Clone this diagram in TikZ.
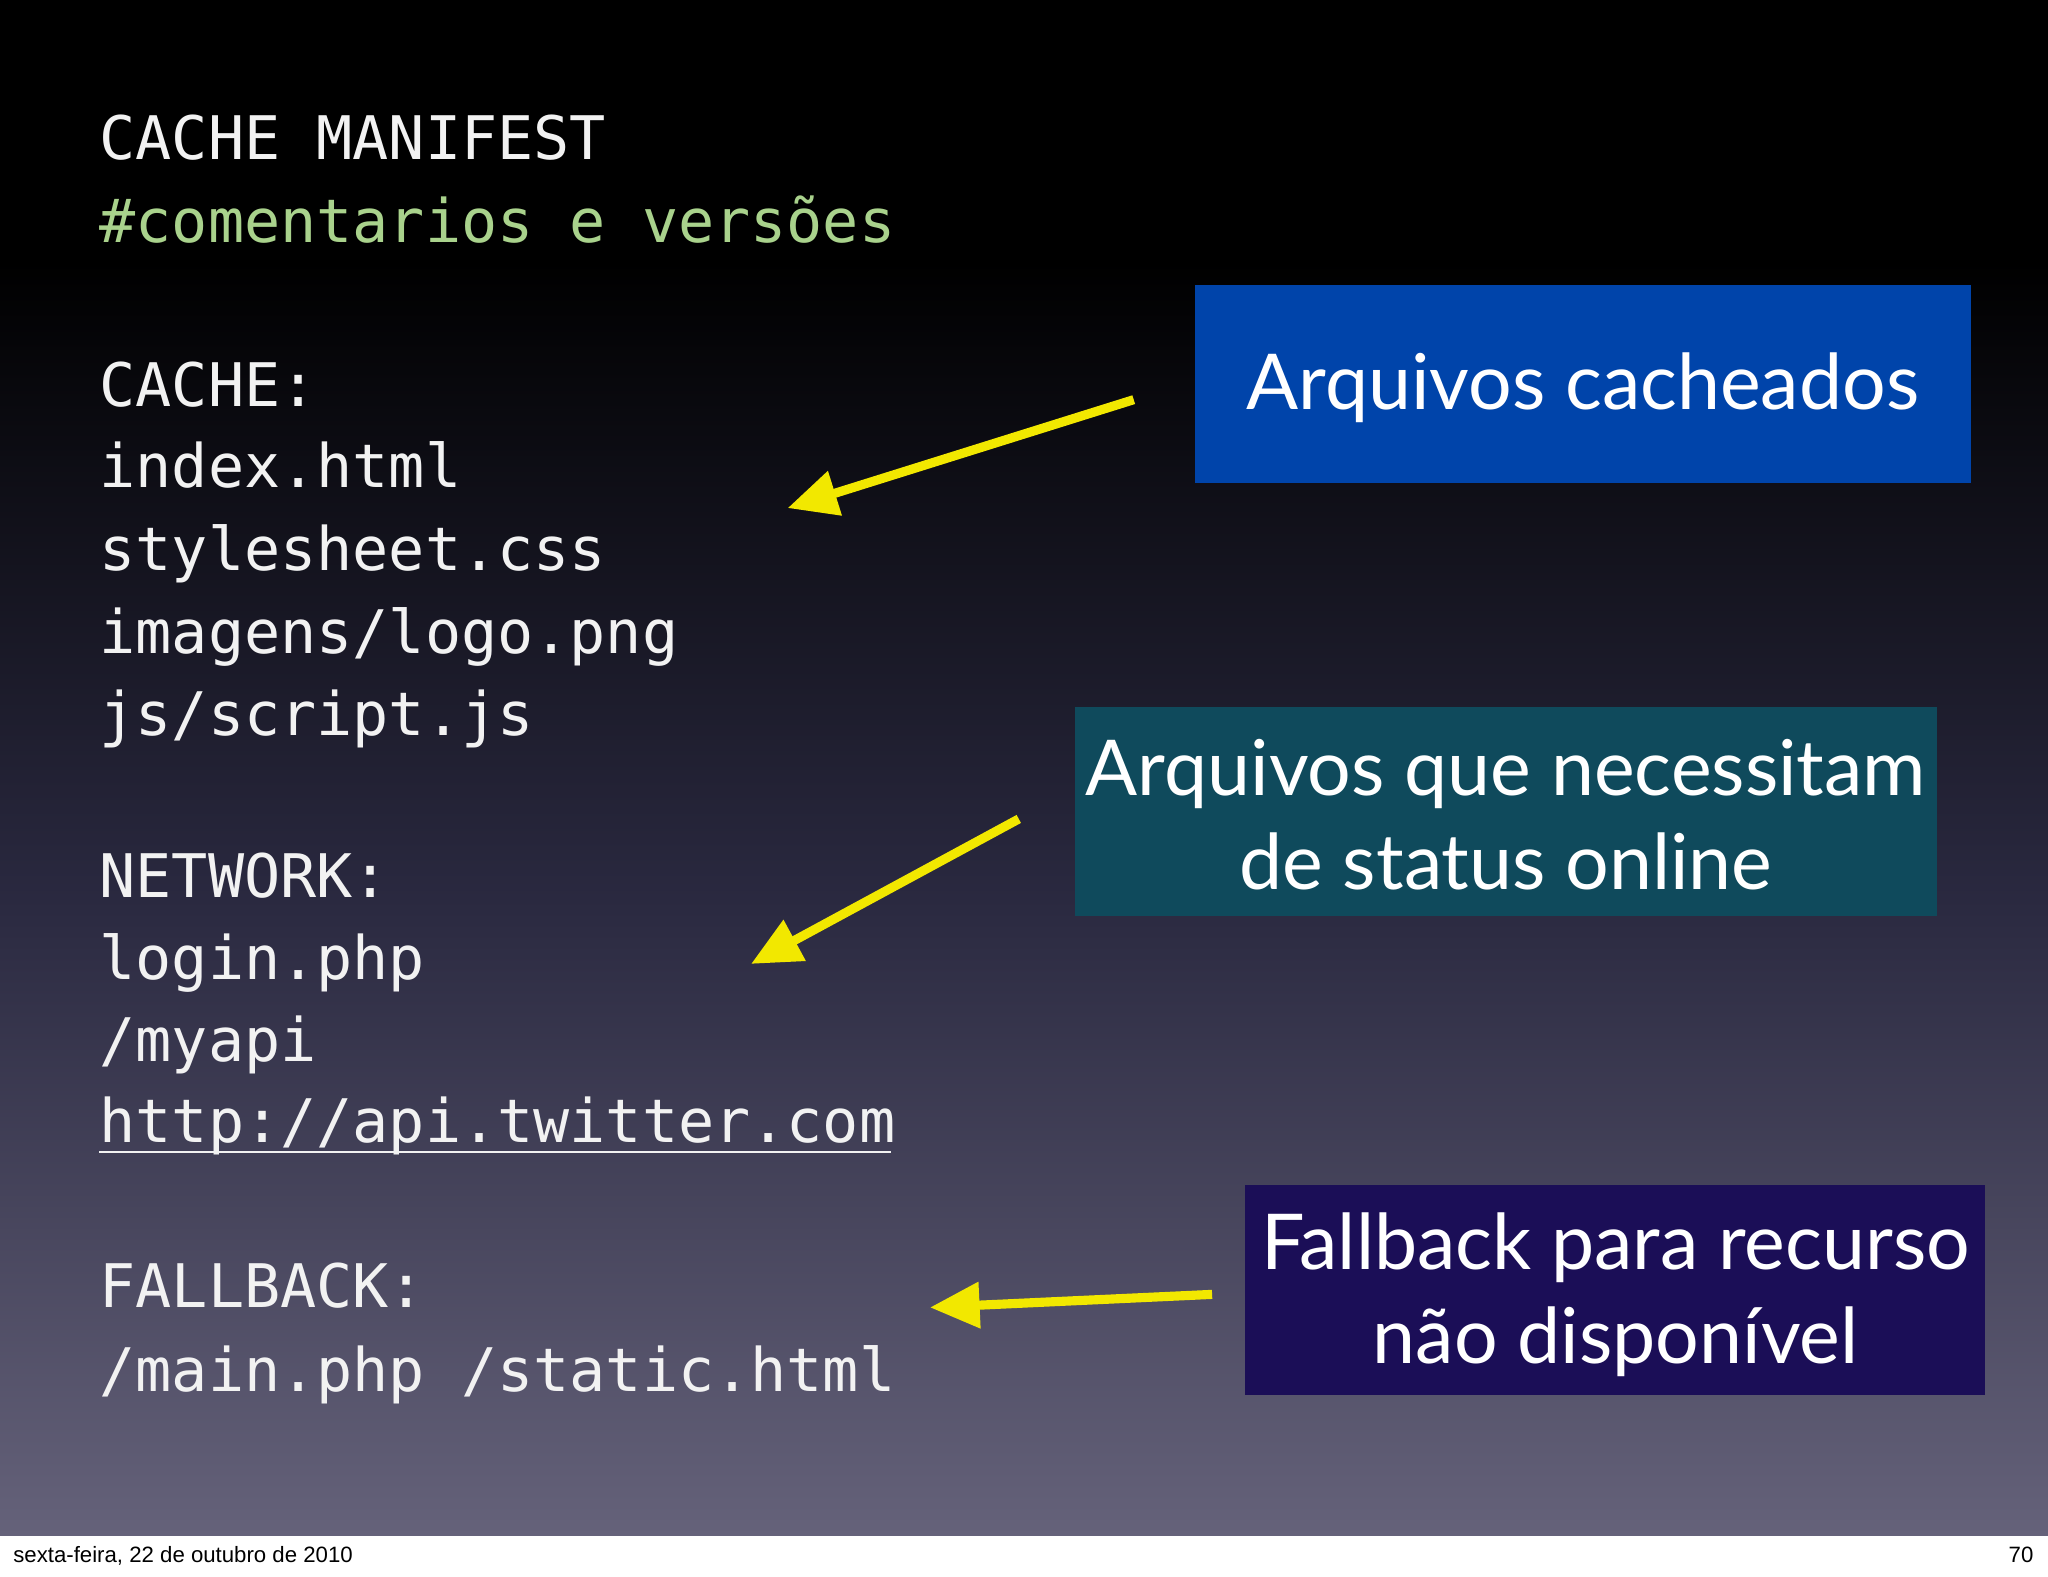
\documentclass[tikz,border=0pt]{standalone}
\usepackage{fontspec}
\setmonofont{DejaVu Sans Mono}
\newfontfamily\boxfont{Lato}
\newfontfamily\footfont{Liberation Sans}
\usetikzlibrary{arrows.meta}
\definecolor{codecol}{HTML}{F2F2F2}
\definecolor{comcol}{HTML}{A9D28C}
\definecolor{boxa}{HTML}{0044AA}
\definecolor{boxb}{HTML}{0F4A5C}
\definecolor{boxc}{HTML}{1B0E57}
\definecolor{arrcol}{HTML}{F2E800}
\definecolor{bgbot}{HTML}{65627A}
\definecolor{bgmid}{HTML}{2A2940}
\begin{document}
\begin{tikzpicture}[x=1pt,y=-1pt,
  code/.style={anchor=base west,inner sep=0pt,text=codecol,font=\fontsize{46}{46}\selectfont\ttfamily},
  lbl/.style={text=white,font=\fontsize{59}{72}\selectfont\boxfont,align=center,inner sep=0pt},
  arr/.style={arrcol,line width=7pt,-{Triangle[length=38pt,width=34pt]}}]
\useasboundingbox (0,0) rectangle (1568,1207);
\fill[black] (0,0) rectangle (1568,201);
\shade[top color=black,bottom color=bgbot,middle color=bgmid] (0,200) rectangle (1568,1176);
\fill[white] (0,1176) rectangle (1568,1207);
\node[anchor=base west,inner sep=0pt,font=\fontsize{17}{17}\selectfont\footfont] (foot) at (10,1196) {sexta-feira, 22 de outubro de 2010};
\node[anchor=base east,inner sep=0pt,font=\fontsize{17}{17}\selectfont\footfont] (page) at (1557,1196) {70};
\node[code] (l1) at (76,122) {CACHE MANIFEST};
\node[code,text=comcol] (l2) at (76,186) {\#comentarios e versões};
\node[code] (l3) at (76,311) {CACHE:};
\node[code] (l4) at (76,373) {index.html};
\node[code] (l5) at (76,437) {stylesheet.css};
\node[code] (l6) at (76,500) {imagens/logo.png};
\node[code] (l7) at (76,563) {js/script.js};
\node[code] (l8) at (76,687) {NETWORK:};
\node[code] (l9) at (76,750) {login.php};
\node[code] (l10) at (76,813) {/myapi};
\node[code] (l11) at (76,875) {http://api.twitter.com};
\draw[codecol,line width=2pt] (76,882) -- (682,882);
\node[code] (l12) at (76,1001) {FALLBACK:};
\node[code] (l13) at (76,1065) {/main.php /static.html};
\fill[boxa] (915,218) rectangle (1509,370);
\node[lbl] (b1) at (1212,297) {Arquivos cacheados};
\fill[boxb] (823,541) rectangle (1483,701);
\node[lbl] (b2) at (1153,624) {Arquivos que necessitam\\de status online};
\fill[boxc] (953,907) rectangle (1520,1068);
\node[lbl] (b3) at (1237,991) {Fallback para recurso\\não disponível};
\coordinate (s1) at (868,306); \coordinate (e1) at (603,389);
\coordinate (s2) at (780,627); \coordinate (e2) at (575,738);
\coordinate (s3) at (928,991); \coordinate (e3) at (712,1001);
\draw[arr] (s1) -- (e1);
\draw[arr] (s2) -- (e2);
\draw[arr] (s3) -- (e3);
\end{tikzpicture}
\end{document}
